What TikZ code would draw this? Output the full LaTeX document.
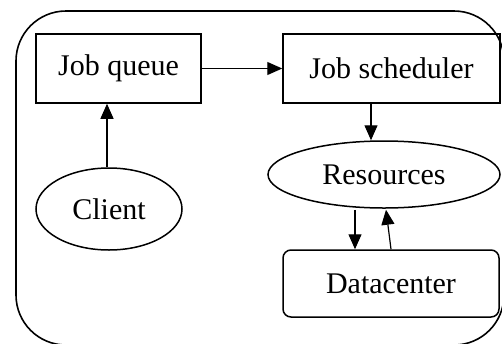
\documentclass[tikz,border=0pt]{standalone}
\usepackage{fontspec}
\setmainfont{Liberation Serif}
\usetikzlibrary{arrows.meta,shapes.geometric}
\begin{document}
\begin{tikzpicture}[x=1pt,y=-1pt,
  every node/.style={font=\fontsize{30}{36}\selectfont, inner sep=0pt, line width=1.5pt},
  box/.style={draw, rectangle},
  oval/.style={draw, ellipse},
  link/.style={line width=1.2pt, -{Triangle[length=15pt,width=13pt]}}]
  \useasboundingbox (0,0) rectangle (502,343);
  \clip (0,0) rectangle (502,343);
  % enclosing frame
  \draw[line width=1.6pt, rounded corners=50pt] (16,11) rectangle (504,345);
  % nodes
  \node[box, minimum width=165pt, minimum height=69pt] (queue) at (118.5,68.5) {Job queue};
  \node[box, minimum width=217pt, minimum height=69pt] (sched) at (391.5,68.5) {Job scheduler};
  \node[oval, minimum width=146pt, minimum height=82pt] (client) at (109,209) {Client};
  \node[oval, minimum width=232pt, minimum height=67pt] (res) at (384,174.5) {Resources};
  \node[box, rounded corners=8pt, minimum width=216pt, minimum height=67pt] (dc) at (391,283.5) {Datacenter};
  % connectors
  \draw[link] (queue.east) -- (sched.west);
  \draw[link] ([xshift=-2pt]client.north) -- ([xshift=-2pt]client.north |- queue.south);
  \draw[link] ([xshift=-20.5pt]sched.south) -- ([xshift=-20.5pt]sched.south |- res.north);
  \draw[link] ([xshift=-29pt,yshift=-1pt]res.south) -- ([xshift=-29pt]res.south |- dc.north);
  \draw[link] ([xshift=0pt]dc.north) -- ([xshift=2pt,yshift=-1pt]res.south);
\end{tikzpicture}
\end{document}
